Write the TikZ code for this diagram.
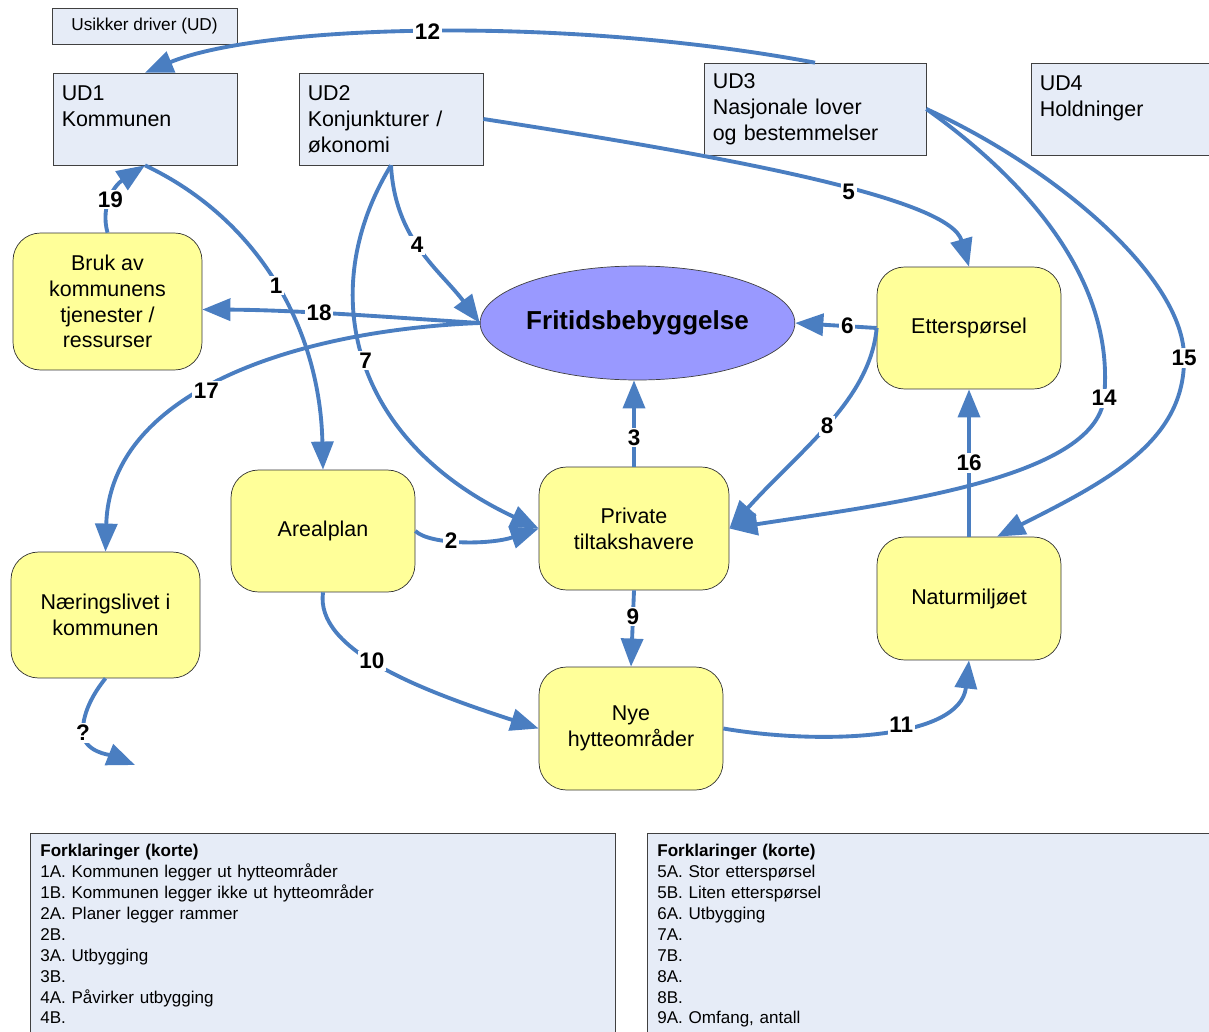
\documentclass[tikz,border=0pt]{standalone}
\usepackage{fontspec}
\setmainfont{Liberation Sans}
\usetikzlibrary{shapes.geometric,arrows.meta,calc}

\definecolor{udblaa}{RGB}{230,236,247}
\definecolor{gul}{RGB}{255,255,153}
\definecolor{lilla}{RGB}{153,153,255}
\definecolor{pilblaa}{RGB}{74,126,193}

\tikzset{
  udboks/.style={draw=black!75, fill=udblaa, align=left, text width=#1,
    inner xsep=5pt, minimum height=1.84cm, font=\fontsize{12.2}{14.7}\selectfont},
  blok/.style={draw=black!80, fill=gul, rounded corners=0.55cm, align=center,
    font=\fontsize{12.2}{14.7}\selectfont},
  forklaring/.style={draw=black!75, fill=udblaa, anchor=north west, align=left,
    inner xsep=0.2cm, inner ysep=0.22cm, font=\fontsize{9.7}{11.9}\selectfont},
  tall/.style={fill=white, inner sep=1pt, font=\fontsize{12.8}{13}\selectfont\bfseries},
  pil/.style={draw=pilblaa, line width=2.2pt, -{Triangle[length=16pt,width=12.5pt]}}
}

\begin{document}
\begin{tikzpicture}[x=0.02cm, y=-0.02cm]
\useasboundingbox (0,0) rectangle (1209,1031);

% usikre drivere
\node[draw=black!75, fill=udblaa, minimum width=3.7cm, minimum height=0.72cm,
  font=\fontsize{9.8}{11}\selectfont] (ud) at (144.5,26) {Usikker driver (UD)};
\node[udboks=3.33cm] (ud1) at (145,119) {UD1\\Kommunen\\\mbox{}};
\node[udboks=3.33cm] (ud2) at (391,119) {UD2\\Konjunkturer /\\økonomi};
\node[udboks=4.09cm] (ud3) at (815,109) {UD3\\Nasjonale lover\\og bestemmelser};
\node[udboks=3.33cm] (ud4) at (1123,109) {UD4\\Holdninger\\\mbox{}};

% faktorer
\node[ellipse, draw=black!75, fill=lilla, minimum width=6.18cm, minimum height=2.28cm,
  inner sep=0pt, font=\fontsize{14.8}{16}\selectfont\bfseries] (fritid) at (637.5,323) {Fritidsbebyggelse};
\node[blok, minimum width=3.78cm, minimum height=2.74cm] (bruk) at (107.5,301.5) {Bruk av\\kommunens\\tjenester /\\ressurser};
\node[blok, minimum width=3.68cm, minimum height=2.44cm] (etter) at (969,328) {Etterspørsel};
\node[blok, minimum width=3.68cm, minimum height=2.44cm] (areal) at (323,531) {Arealplan};
\node[blok, minimum width=3.8cm, minimum height=2.46cm] (privat) at (634,528.5) {Private\\tiltakshavere};
\node[blok, minimum width=3.78cm, minimum height=2.52cm] (naering) at (105.5,615) {Næringslivet i\\kommunen};
\node[blok, minimum width=3.68cm, minimum height=2.46cm] (natur) at (969,598.5) {Naturmiljøet};
\node[blok, minimum width=3.68cm, minimum height=2.46cm] (nye) at (631,728.5) {Nye\\hytteområder};

% forklaringer
\node[forklaring, text width=11.3cm] (fk1) at (30,833) {\textbf{Forklaringer (korte)}\\
  1A. Kommunen legger ut hytteområder\\1B. Kommunen legger ikke ut hytteområder\\
  2A. Planer legger rammer\\2B.\\3A. Utbygging\\3B.\\4A. Påvirker utbygging\\4B.\\\mbox{}};
\node[forklaring, text width=11cm] (fk2) at (647,833) {\textbf{Forklaringer (korte)}\\
  5A. Stor etterspørsel\\5B. Liten etterspørsel\\6A. Utbygging\\7A.\\7B.\\8A.\\8B.\\
  9A. Omfang, antall\\\mbox{}};

% pilene
\draw[pil] (ud3.north) .. controls (560,15) and (260,25) .. (ud1.north) node[tall, pos=0.5] (t12) {12};
\draw[pil] (bruk.north) .. controls (100,205) and (115,185) .. (ud1.south) node[tall, pos=0.45] (t19) {19};
\draw[pil] (ud1.south) .. controls (260,220) and (320,330) .. (areal.north) node[tall, pos=0.5] (t1) {1};
\draw[pil] (ud2.south) .. controls (395,240) and (440,270) .. (fritid.west) node[tall, pos=0.45] (t4) {4};
\draw[pil] (ud2.south) .. controls (315,290) and (350,440) .. (privat.west) node[tall, pos=0.5] (t7) {7};
\draw[pil] (ud2.east) .. controls (750,160) and (950,200) .. (etter.north) node[tall, pos=0.56] (t5) {5};
\draw[pil] (fritid.west) .. controls (400,318) and (300,310) .. ($(bruk.east)+(0,8)$) node[tall, pos=0.6] (t18) {18};
\draw[pil] (fritid.west) .. controls (300,330) and (110,390) .. (naering.north) node[tall, pos=0.55] (t17) {17};
\draw[pil] (etter.west) -- (fritid.east) node[tall, pos=0.36] (t6) {6};
\draw[pil] (etter.west) .. controls (870,400) and (800,450) .. (privat.east) node[tall, pos=0.5] (t8) {8};
\draw[pil] (privat.north) -- (privat.north |- fritid.south) node[tall, pos=0.34] (t3) {3};
\draw[pil] (areal.east) .. controls (430,545) and (490,545) .. (privat.west) node[tall, pos=0.4] (t2) {2};
\draw[pil] (privat.south) -- (nye.north) node[tall, pos=0.34] (t9) {9};
\draw[pil] (areal.south) .. controls (315,650) and (420,690) .. (nye.west) node[tall, pos=0.45] (t10) {10};
\draw[pil] (nye.east) .. controls (820,745) and (960,740) .. (natur.south) node[tall, pos=0.58] (t11) {11};
\draw[pil] (ud3.east) .. controls (1040,190) and (1115,290) .. (1104,398) node[tall] (t14) {14}
  .. controls (1095,480) and (880,505) .. (privat.east);
\draw[pil] (ud3.east) .. controls (1060,170) and (1185,280) .. (1184,358) node[tall] (t15) {15}
  .. controls (1185,440) and (1110,480) .. ($(natur.north)+(28,0)$);
\draw[pil] (natur.north) -- (etter.south) node[tall, pos=0.5] (t16) {16};
\coordinate (videre) at (135,765);
\draw[pil] (naering.south) .. controls (92,695) and (82,715) .. (83,733) node[tall] (tq) {?}
  .. controls (84,752) and (110,755) .. (videre);
\end{tikzpicture}
\end{document}
